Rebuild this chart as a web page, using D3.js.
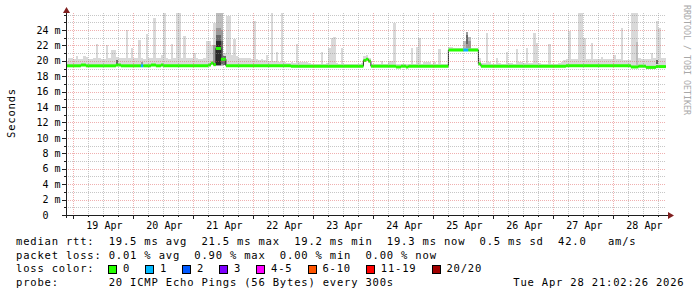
<!DOCTYPE html>
<html><head><meta charset="utf-8">
<script src="https://cdn.jsdelivr.net/npm/d3@7"></script>
<style>
html,body{margin:0;padding:0;background:#fff;}
svg{display:block;}
text{font-family:"DejaVu Sans Mono",monospace;fill:#000;}
</style></head><body>
<svg id="chart" width="697" height="297"></svg>
<script>
// ---------------- DATA ----------------
const startTime = new Date(2026, 3, 18, 21, 2, 26);
const endTime   = new Date(2026, 3, 28, 21, 2, 26);
const firstHour = new Date(2026, 3, 18, 21, 0, 0);   // hourly consolidated columns start here

// median RTT per hour (ms)
const medianRtt = [
 19.35,19.35,19.35,19.35,19.35,19.35,19.45,19.45,19.35,19.35,19.35,19.35,19.35,19.35,19.35,19.35,19.35,19.35,19.35,19.35,19.45,19.45,19.35,19.35,
 19.35,19.35,19.35,19.35,19.35,19.35,19.35,19.35,19.35,19.35,19.45,19.45,19.35,19.35,19.45,19.35,19.35,19.35,19.35,19.35,19.35,19.35,19.35,19.35,
 19.35,19.35,19.35,19.35,19.35,19.35,19.35,19.35,19.35,19.45,19.7,19.5,21.6,21.6,20.2,20.2,19.35,19.35,19.35,19.35,19.35,19.35,19.35,19.35,
 19.35,19.35,19.35,19.35,19.35,19.35,19.35,19.35,19.35,19.35,19.35,19.35,19.35,19.35,19.35,19.35,19.35,19.35,19.3,19.3,19.3,19.3,19.3,19.3,
 19.3,19.3,19.3,19.3,19.3,19.3,19.3,19.3,19.3,19.3,19.3,19.3,19.3,19.3,19.3,19.3,19.3,19.3,19.3,19.3,19.3,19.3,19.3,20.05,
 20.2,19.95,19.3,19.3,19.3,19.3,19.3,19.3,19.3,19.3,19.3,19.3,19.2,19.2,19.3,19.3,19.2,19.3,19.3,19.3,19.3,19.3,19.3,19.3,
 19.3,19.3,19.3,19.3,19.3,19.3,19.3,19.3,19.3,21.4,21.4,21.4,21.4,21.4,21.4,21.4,21.4,21.4,21.4,21.4,21.4,19.6,19.3,19.3,
 19.3,19.3,19.3,19.3,19.3,19.3,19.3,19.3,19.3,19.3,19.3,19.3,19.3,19.3,19.3,19.3,19.3,19.3,19.3,19.3,19.3,19.3,19.3,19.3,
 19.3,19.3,19.3,19.3,19.3,19.3,19.3,19.3,19.35,19.35,19.35,19.35,19.35,19.35,19.35,19.35,19.35,19.35,19.35,19.35,19.35,19.35,19.35,19.35,
 19.35,19.35,19.35,19.35,19.35,19.35,19.35,19.35,19.35,19.35,19.2,19.2,19.2,19.3,19.3,19.3,19.15,19.15,19.15,19.15,19.25,19.25,19.25,19.25
];

// highest ping per hour (outer smoke), ms
const smokeMax = [
 20.0,20.3,20.4,20.2,20.6,20.2,20.2,20.6,20.5,20.2,20.2,20.3,22.2,20.3,20.2,20.2,22.1,20.4,21.4,21.4,20.5,20.4,20.4,20.4,
 24.0,20.4,21.6,20.4,20.3,22.7,20.3,20.2,23.5,20.3,20.4,25.5,20.4,20.3,20.8,26.3,20.3,20.2,22.2,20.3,26.3,26.3,20.4,23.2,
 20.4,20.3,20.3,21.0,20.3,20.2,20.2,20.4,22.6,22.6,22.0,24.9,26.3,26.3,26.3,21.0,25.8,25.8,20.7,22.8,20.6,20.4,20.4,20.4,
 20.4,20.3,20.2,25.1,20.2,20.1,20.2,20.1,20.7,20.0,26.3,20.0,21.2,19.9,26.3,19.8,19.7,19.7,19.8,19.7,22.2,19.9,19.9,19.8,
 19.9,19.7,19.6,19.6,19.6,19.6,21.2,19.6,19.7,21.7,22.9,23.1,19.7,19.6,21.6,19.6,19.6,19.6,19.6,19.6,19.6,19.6,19.7,20.6,
 20.7,20.3,19.6,19.6,19.6,19.6,20.0,19.6,19.6,20.0,20.0,24.9,19.6,19.6,19.6,19.6,19.6,19.6,21.7,19.6,21.8,23.0,19.6,19.9,
 19.9,19.9,19.6,19.9,19.6,21.5,19.6,19.6,19.6,21.8,21.8,21.6,21.6,21.6,21.6,22.6,23.8,23.1,21.6,21.6,21.6,20.4,19.7,19.7,
 23.6,19.8,19.6,19.6,20.4,19.7,19.6,19.6,21.2,19.7,19.7,19.6,21.5,19.9,19.9,19.7,21.7,19.7,19.7,23.6,22.3,19.7,19.6,19.6,
 19.6,22.2,19.6,19.6,19.6,19.7,19.9,20.1,20.2,23.9,20.2,20.2,20.2,26.3,26.3,22.9,20.2,20.2,22.3,20.2,20.2,20.2,20.5,20.2,
 20.2,20.2,20.2,20.8,20.2,20.2,24.2,20.1,20.1,20.1,26.3,26.3,26.3,20.3,20.2,20.2,20.2,20.2,21.0,20.3,25.2,24.2,20.3,20.3
];

// inner (denser) smoke: [hour, low ms, high ms, layer]
const smokeInner = [
 [20, 19.6, 20.1, 3],
 [30, 19.5, 19.9, 2],
 [59, 19.4, 22.1, 2],
 [60, 19.3, 26.3, 1], [60, 19.3, 24.3, 2], [60, 19.4, 23.4, 3], [60, 19.5, 22.6, 4],
 [61, 19.3, 26.3, 1], [61, 19.3, 24.3, 2], [61, 19.4, 23.4, 3], [61, 19.5, 22.6, 4],
 [62, 19.3, 26.3, 1], [62, 19.4, 24.0, 2], [62, 19.6, 22.6, 3],
 [63, 19.4, 20.6, 3],
 [159, 21.4, 22.6, 1],
 [160, 21.4, 23.8, 1], [160, 21.6, 23.7, 2], [160, 22.2, 23.4, 3],
 [161, 21.4, 23.1, 1], [161, 21.6, 22.6, 2],
 [228, 19.4, 22.5, 1],
 [236, 19.6, 20.1, 3]
];

// hours with packet loss: [hour, lost pings]
const lossHours = [[30, 1], [159, 1], [160, 1]];

const yTickValues = [0, 2, 4, 6, 8, 10, 12, 14, 16, 18, 20, 22, 24];
const yTickLabels = ["0  ", "2 m", "4 m", "6 m", "8 m", "10 m", "12 m", "14 m", "16 m", "18 m", "20 m", "22 m", "24 m"];
const dayLabels = ["19 Apr", "20 Apr", "21 Apr", "22 Apr", "23 Apr", "24 Apr", "25 Apr", "26 Apr", "27 Apr", "28 Apr"];

const statNames = ["avg", "max", "min", "now"];
const rttValues = [19.5, 21.5, 19.2, 19.3];
const rttSd = 0.5;
const amPerSec = 42.0;
const lossValues = [0.01, 0.90, 0.00, 0.00];
const lossLabels = ["0", "1", "2", "3", "4-5", "6-10", "11-19", "20/20"];
const lossColors = ["#26ff00", "#00b8ff", "#0059ff", "#7e00ff", "#ff00ff", "#ff5500", "#ff0000", "#a10000"];
const probeText = "20 ICMP Echo Pings (56 Bytes) every 300s";
const dateText = "Tue Apr 28 21:02:26 2026";
const yTitle = "Seconds";
const watermark = "RRDTOOL / TOBI OETIKER";

// ---------------- DRAW ----------------
const svg = d3.select("#chart");
const X0 = 66, X1 = 666, YB = 215, YT = 13;
const x = d3.scaleTime().domain([startTime, endTime]).range([X0, X1]);
const y = d3.scaleLinear().domain([0, 26.2]).range([YB, YT]);
const hourAt = h => d3.timeHour.offset(firstHour, h);

svg.append("rect").attr("width", 697).attr("height", 297).attr("fill", "#fff");

svg.append("defs").append("clipPath").attr("id", "clip")
  .append("rect").attr("x", X0).attr("y", YT).attr("width", X1 - X0).attr("height", YB - YT);

const plot = svg.append("g").attr("clip-path", "url(#clip)");
const layerColors = ["#d9d9d9", "#bdbdbd", "#9a9a9a", "#686868", "#2a2a2a"];

// outer smoke
plot.append("g").attr("shape-rendering", "crispEdges")
  .selectAll("rect").data(smokeMax).join("rect")
  .attr("x", (d, h) => x(hourAt(h)))
  .attr("width", (d, h) => x(hourAt(h + 1)) - x(hourAt(h)))
  .attr("y", d => y(d))
  .attr("height", (d, h) => Math.max(0, y(medianRtt[h] - 0.15) - y(d)))
  .attr("fill", layerColors[0]);

// inner smoke
plot.append("g").attr("shape-rendering", "crispEdges")
  .selectAll("rect").data(smokeInner).join("rect")
  .attr("x", d => x(hourAt(d[0])))
  .attr("width", d => x(hourAt(d[0] + 1)) - x(hourAt(d[0])))
  .attr("y", d => y(d[2]))
  .attr("height", d => y(d[1]) - y(d[2]))
  .attr("fill", d => layerColors[d[3]]);

// thin dark median step line
const stepPts = medianRtt.map((m, h) => [hourAt(h), m]);
stepPts.push([hourAt(medianRtt.length), medianRtt[medianRtt.length - 1]]);
plot.append("path")
  .attr("d", d3.line().x(d => x(d[0])).y(d => y(d[1])).curve(d3.curveStepAfter)(stepPts))
  .attr("fill", "none").attr("stroke", "#202020").attr("stroke-width", 1);

// loss-coloured median segments (horizontal only)
const lossMap = new Map(lossHours);
const lossIndex = n => n === 0 ? 0 : n === 1 ? 1 : n === 2 ? 2 : n === 3 ? 3 : n <= 5 ? 4 : n <= 10 ? 5 : n <= 19 ? 6 : 7;
const runs = [];
medianRtt.forEach((m, h) => {
  const c = lossColors[lossIndex(lossMap.get(h) || 0)];
  const last = runs[runs.length - 1];
  if (last && last.v === m && last.c === c && last.h1 === h) last.h1 = h + 1;
  else runs.push({h0: h, h1: h + 1, v: m, c: c});
});
plot.append("g").selectAll("path").data(runs).join("path")
  .attr("d", r => `M${x(hourAt(r.h0))},${y(r.v)}H${x(hourAt(r.h1))}`)
  .attr("stroke", r => r.c).attr("stroke-width", 3).attr("fill", "none");

// grid (drawn over data, like rrdtool)
const grid = svg.append("g").attr("shape-rendering", "crispEdges");
const minorY = d3.range(1, 27).filter(v => !yTickValues.includes(v));
const days = d3.timeDay.range(d3.timeDay.ceil(startTime), endTime);
const sixH = d3.timeHour.every(6).range(startTime, endTime).filter(t => t.getHours() !== 0);
const minorCol = "rgba(143,143,143,0.5)", majorCol = "rgba(222,79,79,0.45)";
grid.selectAll(".my").data(minorY).join("line")
  .attr("x1", X0).attr("x2", X1).attr("y1", v => Math.round(y(v)) + 0.5).attr("y2", v => Math.round(y(v)) + 0.5)
  .attr("stroke", minorCol).attr("stroke-dasharray", "1,1");
grid.selectAll(".mx").data(sixH).join("line")
  .attr("x1", t => Math.round(x(t)) + 0.5).attr("x2", t => Math.round(x(t)) + 0.5).attr("y1", YT).attr("y2", YB)
  .attr("stroke", minorCol).attr("stroke-dasharray", "1,1");
grid.selectAll(".My").data(yTickValues.slice(1)).join("line")
  .attr("x1", X0).attr("x2", X1).attr("y1", v => Math.round(y(v)) + 0.5).attr("y2", v => Math.round(y(v)) + 0.5)
  .attr("stroke", majorCol).attr("stroke-dasharray", "1,1");
grid.selectAll(".Mx").data(days).join("line")
  .attr("x1", t => Math.round(x(t)) + 0.5).attr("x2", t => Math.round(x(t)) + 0.5).attr("y1", YT).attr("y2", YB)
  .attr("stroke", majorCol).attr("stroke-dasharray", "1,1");

// axes
const axisCol = "#1f1f1f";
const ax = svg.append("g").attr("shape-rendering", "crispEdges");
ax.append("line").attr("x1", 62).attr("x2", 670).attr("y1", YB + 0.5).attr("y2", YB + 0.5).attr("stroke", axisCol);
ax.append("line").attr("x1", X0 + 0.5).attr("x2", X0 + 0.5).attr("y1", YB + 3).attr("y2", 11).attr("stroke", axisCol);
// y ticks
ax.selectAll(".yt").data(yTickValues).join("line")
  .attr("x1", X0 - 4).attr("x2", X0).attr("y1", v => Math.round(y(v)) + 0.5).attr("y2", v => Math.round(y(v)) + 0.5).attr("stroke", axisCol);
ax.selectAll(".ytm").data(minorY).join("line")
  .attr("x1", X0 - 2).attr("x2", X0).attr("y1", v => Math.round(y(v)) + 0.5).attr("y2", v => Math.round(y(v)) + 0.5).attr("stroke", axisCol);
// x ticks
ax.selectAll(".xt").data(days).join("line")
  .attr("x1", t => Math.round(x(t)) + 0.5).attr("x2", t => Math.round(x(t)) + 0.5).attr("y1", YB).attr("y2", YB + 4).attr("stroke", axisCol);
ax.selectAll(".xtm").data(sixH).join("line")
  .attr("x1", t => Math.round(x(t)) + 0.5).attr("x2", t => Math.round(x(t)) + 0.5).attr("y1", YB).attr("y2", YB + 2).attr("stroke", axisCol);

// arrows
const arrowCol = "#801f1f";
svg.append("path").attr("d", `M${X0 + 0.5},7 L${X0 - 3},13 L${X0 + 4},13 Z`).attr("fill", arrowCol);
svg.append("path").attr("d", `M674,${YB + 0.5} L668,${YB - 3} L668,${YB + 4} Z`).attr("fill", arrowCol);

// y labels
svg.append("g").selectAll("text").data(yTickValues).join("text")
  .attr("x", 60.5).attr("y", v => y(v) + 3.6)
  .attr("text-anchor", "end").attr("xml:space", "preserve").style("white-space", "pre")
  .style("font-size", "10px")
  .text((v, i) => yTickLabels[i]);

// x labels at noon
svg.append("g").selectAll("text").data(dayLabels).join("text")
  .attr("x", (d, i) => x(new Date(2026, 3, 19 + i, 12)) + 1)
  .attr("y", 229)
  .attr("text-anchor", "middle").style("font-size", "10px")
  .text(d => d);

// axis title
svg.append("text").attr("transform", "translate(14.8,113) rotate(-90)")
  .attr("text-anchor", "middle").style("font-size", "10.5px").style("letter-spacing", "0.81px")
  .text(yTitle);

// watermark
svg.append("text").attr("transform", "translate(684.3,5) rotate(90)")
  .style("font-size", "8.3px").style("fill", "#a8a8a8")
  .text(watermark);

// legend
const LX = 16;
const legendStyle = sel => sel.attr("xml:space", "preserve").style("white-space", "pre")
  .style("font-size", "10.5px").style("letter-spacing", "0.81px");
const f1 = d3.format(".1f"), f2 = d3.format(".2f");
const line1 = "median rtt:  " + rttValues.map((v, i) => f1(v) + " ms " + statNames[i]).join("  ")
  + "  " + f1(rttSd) + " ms sd  " + f1(amPerSec) + "   am/s";
const line2 = "packet loss: " + lossValues.map((v, i) => f2(v) + " % " + statNames[i]).join("  ");
svg.append("text").attr("x", LX).attr("y", 245).call(legendStyle).text(line1);
svg.append("text").attr("x", LX).attr("y", 258.5).call(legendStyle).text(line2);
svg.append("text").attr("x", LX).attr("y", 272.2).call(legendStyle).text("loss color:");
let bx = 108.3;
const adv = 7.13;
lossLabels.forEach((lab, i) => {
  svg.append("rect").attr("x", Math.round(bx) + 0.5).attr("y", 265.5).attr("width", 8).attr("height", 8)
    .attr("fill", lossColors[i]).attr("stroke", "#000").attr("stroke-width", 1);
  svg.append("text").attr("x", bx + 14.7).attr("y", 272.2).call(legendStyle).text(lab);
  bx += 29.9 + adv * lab.length;
});
svg.append("text").attr("x", LX).attr("y", 285.7).call(legendStyle).text("probe:       " + probeText);
svg.append("text").attr("x", 513.3).attr("y", 285.7).call(legendStyle).text(dateText);
</script>
</body></html>
